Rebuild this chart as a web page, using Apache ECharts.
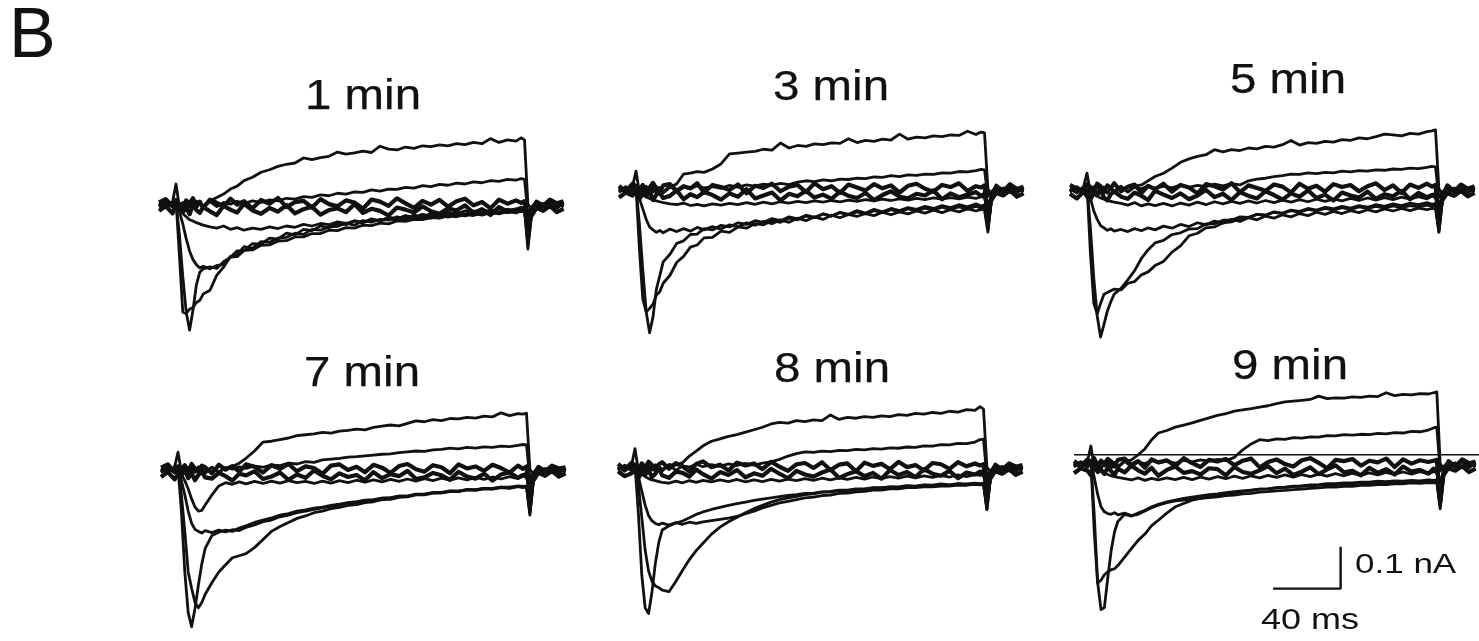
<!DOCTYPE html>
<html><head><meta charset="utf-8">
<script src="https://cdn.jsdelivr.net/npm/echarts@6/dist/echarts.min.js"></script>
<style>html,body{margin:0;padding:0;background:#fff}#c{width:1479px;height:641px}</style>
</head><body><div id="c"></div>
<script>
// time samples (ms) relative to step onset
const T = [-10,-6,-2,0,2,4,6,8,10,12,14,16,20,24,28,32,36,40,45,50,55,60,65,70,75,80,85,90,95,100,105,110,115,120,125,130,135,140,145,150,155,160,165,170,175,180,185,190,195,200,203,205,207,209,212,216,220,224,228];
const panelTitles = ['1 min','3 min','5 min','7 min','8 min','9 min'];

// ---- 1 min (pA) ----
const p1Out1 = [4,-6,8,50,-5,6,-8,5,-4,9, 3,-6,10,18,26,38,45,58,66,78, 84,92,97,100,112,108,113,116,126,121, 124,128,125,140,133,131,138,135,141,139, 143,141,146,144,149,146,158,149,155,152, 160,155,2,-8,6,-5,8,-6,4];
const p1Out2 = [-5,7,-3,10,4,-6,8,-4,6,-7, 5,-3,8,-4,6,2,9,4,10,6, 12,10,16,14,20,18,24,22,28,26, 31,30,36,33,38,37,42,40,46,44, 49,47,52,50,55,53,58,56,61,59, 63,61,-20,-6,8,-4,7,-8,5];
const p1B1 = [6,14,-3,12,2,-9,11,4,16,-2, 8,-7,13,5,-4,15,1,9,-8,12, 3,17,-5,7,10,-6,14,2,-3,11, 6,-9,13,8,-2,16,4,-7,10,1, 12,-4,9,15,-1,7,-8,13,3,11, 5,9,-60,-15,8,-2,13,4,9];
const p1B2 = [-14,-3,-20,4,-9,-17,-6,-22,1,-12, -19,-5,-15,-24,-2,-11,-18,3,-13,-21, -7,-16,0,-20,-10,-4,-23,-12,-8,-17, 2,-19,-9,-14,-25,-6,-11,-18,-3,-15, -21,-8,-13,-1,-19,-10,-24,-5,-16,-12, -7,-11,-35,-18,-6,-14,-2,-17,-9];
const p1In1 = [5,-4,6,8,-10,-20,-28,-35,-38,-42, -45,-48,-52,-55,-50,-58,-54,-60,-55,-58, -52,-56,-50,-53,-46,-50,-44,-47,-40,-44, -38,-41,-35,-38,-33,-36,-30,-33,-28,-31, -25,-29,-23,-26,-20,-24,-18,-21,-16,-19, -14,-16,-40,-12,-3,4,-6,5,-3];
const p1In2 = [-4,6,-5,10,-15,-45,-80,-110,-130,-142, -150,-146,-152,-144,-142,-124,-123,-108,-107,-96, -95,-86,-85,-76,-76,-68,-68,-60,-61,-54, -55,-48,-49,-43,-45,-38,-39,-34,-35,-30, -31,-26,-28,-23,-25,-20,-21,-17,-18,-14, -16,-15,-80,-25,-8,2,-5,3,-4];
const p1In3 = [3,-5,4,12,-120,-255,-258,-248,-244,-232, -227,-212,-203,-167,-148,-122,-118,-99,-103,-87, -89,-79,-77,-67,-70,-58,-60,-52,-51,-43, -48,-37,-41,-34,-36,-28,-34,-24,-29,-20, -27,-17,-22,-14,-19,-10,-17,-8,-13,-9, -12,-10,-105,-30,-10,-3,4,-5,2];
const p1In4 = [-2,4,-3,8,-70,-170,-255,-298,-250,-190, -160,-152,-147,-151,-135,-125,-109,-109,-92,-93, -79,-81,-67,-71,-58,-61,-50,-54,-44,-47, -38,-43,-33,-38,-29,-33,-25,-30,-22,-27, -19,-24,-16,-22,-14,-19,-12,-17,-10,-16, -9,-11,-95,-28,-9,2,-4,3,-2];

// ---- 3 min ----
const p2Out1 = [5,-7,9,45,-6,7,-9,4,-5,8, 2,-7,6,15,38,40,44,42,50,62, 86,88,90,92,97,95,112,100,106,104, 110,108,112,111,122,113,118,116,121,119, 133,121,126,124,129,127,131,130,140,132, 138,136,3,-9,7,-6,9,-5,4];
const p2Out2 = [-6,8,-4,12,5,-7,9,-3,7,-8, 6,-4,9,-5,7,3,10,5,8,4, 11,7,12,9,14,11,16,13,19,22, 20,24,22,26,25,28,27,31,30,34, 32,36,35,38,37,41,40,44,43,46, 49,48,-15,-5,9,-4,8,-7,6];
const p2B1 = [10,-4,15,8,1,12,-7,6,17,3, -5,11,14,-2,9,4,16,-6,12,7, 0,13,-8,10,5,15,-3,8,12,-5, 16,2,9,-7,13,6,-1,14,4,11, -6,10,15,3,-4,12,7,16,-2,9, 6,11,-75,-18,10,-3,14,2,8];
const p2B2 = [-18,-6,-13,2,-21,-9,-15,-3,-24,-11, -7,-19,-14,-1,-22,-10,-17,-5,-12,-23, -8,-16,2,-20,-13,-6,-25,-9,-15,-2, -18,-11,-21,-4,-14,-19,-7,-24,-12,-3, -16,-20,-9,-13,-1,-22,-8,-17,-11,-5, -14,-9,-40,-20,-7,-13,-1,-16,-8];
const p2In1 = [4,-5,7,9,-8,-12,-16,-20,-24,-26, -28,-30,-33,-35,-31,-37,-34,-38,-33,-36, -32,-35,-30,-34,-29,-33,-28,-31,-27,-30, -26,-29,-25,-28,-24,-27,-23,-26,-22,-25, -21,-24,-20,-23,-19,-22,-18,-21,-17,-20, -16,-18,-50,-14,-4,5,-6,4,-3];
const p2In2 = [-3,5,-6,9,-20,-45,-70,-88,-95,-101, -96,-102,-93,-99,-92,-98,-89,-95,-87,-93, -83,-88,-78,-84,-75,-80,-71,-77,-67,-73, -64,-70,-60,-66,-58,-63,-56,-61,-53,-59, -52,-57,-50,-55,-48,-54,-47,-52,-45,-50, -46,-48,-100,-25,-8,3,-5,4,-3];
const p2In3 = [2,-4,5,10,-140,-260,-290,-282,-272,-250, -242,-222,-203,-172,-158,-136,-131,-114,-113,-98, -101,-88,-91,-80,-83,-73,-77,-67,-71,-62, -66,-57,-62,-53,-58,-49,-55,-46,-52,-44, -49,-42,-46,-39,-44,-37,-42,-35,-40,-33, -38,-35,-90,-25,-6,3,-4,5,-2];
const p2In4 = [-3,5,-4,7,-80,-190,-290,-340,-302,-236, -204,-171,-153,-127,-121,-106,-105,-92,-95,-84, -88,-78,-82,-73,-77,-68,-73,-64,-69,-60, -65,-57,-62,-54,-59,-52,-57,-49,-54,-47, -52,-45,-50,-43,-48,-41,-47,-40,-45,-39, -43,-40,-95,-28,-8,2,-4,3,-2];

// ---- 5 min ----
const p3Out1 = [4,-7,8,40,-6,8,-9,6,-5,10, 4,-7,8,-4,9,12,22,32,40,52, 66,74,80,84,96,91,96,94,100,98, 104,102,108,118,107,113,111,116,114,120, 118,124,122,127,133,131,129,135,133,139, 141,143,3,-8,6,-5,9,-6,5];
const p3Out2 = [-5,8,-4,11,5,-7,9,-4,7,-8, 6,-3,9,-5,7,3,10,4,9,5, 12,6,11,8,14,10,15,12,22,26, 28,32,34,38,37,41,39,42,41,45, 43,46,45,48,47,50,49,52,51,54, 56,55,-18,-6,9,-4,8,-7,6];
const p3B1 = [12,3,-6,14,7,-2,15,9,-5,11, 4,16,-3,8,13,-7,10,2,15,-4, 12,6,-8,14,9,1,16,-5,11,5, -2,13,8,-6,15,3,10,-4,14,7, 12,-3,9,16,0,11,-7,13,5,15, 8,12,-70,-16,11,-4,13,3,9];
const p3B2 = [-9,-20,-4,-15,-23,-7,-12,1,-18,-25, -10,-3,-16,-21,-6,-14,-24,-2,-11,-19, -8,-22,-13,0,-17,-9,-24,-5,-14,-20, -3,-12,-23,-8,-16,-1,-19,-11,-25,-6, -13,-18,-4,-21,-10,-15,-2,-22,-7,-17, -12,-10,-45,-19,-8,-14,-2,-15,-7];
const p3In1 = [3,-6,6,9,-6,-10,-15,-19,-22,-25, -27,-29,-32,-36,-30,-38,-33,-37,-32,-38, -31,-36,-29,-35,-28,-33,-27,-32,-26,-31, -25,-30,-24,-29,-23,-28,-22,-27,-21,-26, -20,-25,-19,-24,-18,-23,-17,-22,-16,-21, -15,-18,-55,-14,-4,5,-6,4,-3];
const p3In2 = [-3,5,-6,9,-20,-50,-70,-85,-90,-96, -92,-98,-94,-99,-92,-97,-90,-95,-86,-91, -82,-87,-78,-83,-74,-79,-70,-75,-66,-71, -62,-67,-59,-64,-56,-61,-53,-58,-51,-56, -49,-54,-47,-52,-45,-50,-44,-49,-43,-47, -44,-45,-100,-26,-8,3,-5,4,-3];
const p3In3 = [2,-4,5,10,-150,-270,-295,-270,-248,-244, -240,-236,-238,-222,-218,-202,-195,-180,-170,-148, -133,-109,-103,-90,-88,-78,-76,-68,-66,-58, -60,-52,-55,-48,-51,-44,-48,-41,-45,-39, -43,-37,-41,-35,-39,-33,-37,-31,-35,-30, -34,-32,-95,-26,-7,3,-4,5,-2];
const p3In4 = [-3,5,-4,7,-90,-210,-300,-350,-320,-288, -266,-248,-234,-214,-192,-163,-142,-126,-120,-106, -102,-93,-92,-81,-80,-72,-72,-64,-65,-58, -60,-53,-56,-49,-53,-46,-50,-44,-48,-42, -46,-40,-44,-39,-43,-38,-42,-37,-40,-36, -39,-37,-100,-28,-8,2,-4,3,-2];

// ---- 7 min ----
const p4Out1 = [5,-6,9,45,-4,7,-8,6,-5,9, 3,-7,8,-3,6,10,18,30,48,70, 72,76,80,86,88,90,94,92,97,99, 102,100,106,109,112,110,116,122,120,125, 123,128,127,131,129,134,132,142,135,140, 139,141,3,-9,7,-5,8,-6,4];
const p4Out2 = [-5,7,-4,11,5,-6,8,-3,7,-7, 5,-4,8,-5,7,3,9,5,11,8, 14,12,18,16,22,20,26,28,30,33, 34,36,38,40,41,44,46,48,47,51, 52,55,53,57,55,58,57,60,59,62, 64,63,-20,-6,9,-4,8,-7,6];
const p4B1 = [7,15,-4,10,3,13,-6,16,5,-1, 12,8,-7,14,2,11,-3,15,9,-5, 13,4,16,-2,10,6,-8,12,15,1, 9,-4,14,7,-6,11,16,3,-3,13, 8,-7,15,5,10,-1,14,6,-5,12, 4,10,-65,-15,9,-2,12,5,8];
const p4B2 = [-16,-4,-22,-9,-13,1,-19,-7,-24,-11, -3,-17,-20,-6,-14,-25,-8,-12,-2,-21, -15,-5,-23,-10,-18,0,-13,-22,-7,-16, -11,-24,-4,-19,-9,-14,-1,-21,-17,-6, -12,-23,-3,-15,-20,-8,-25,-10,-5,-18, -11,-9,-40,-17,-6,-13,-1,-15,-7];
const p4In1 = [4,-5,6,8,-10,-25,-45,-70,-90,-100, -98,-85,-60,-38,-30,-34,-28,-33,-27,-32, -26,-31,-25,-30,-27,-32,-26,-31,-25,-30, -24,-29,-23,-28,-22,-27,-21,-26,-20,-25, -19,-24,-18,-23,-17,-22,-16,-21,-15,-20, -14,-17,-50,-13,-4,5,-6,4,-3];
const p4In2 = [-3,5,-6,9,-25,-60,-100,-130,-145,-150, -154,-148,-153,-147,-151,-146,-148,-140,-134,-126, -122,-114,-110,-104,-100,-96,-92,-88,-85,-80, -79,-74,-73,-68,-68,-63,-63,-58,-58,-54, -54,-50,-51,-47,-48,-44,-45,-41,-43,-39, -41,-40,-110,-28,-8,3,-5,4,-3];
const p4In3 = [2,-4,5,10,-60,-150,-250,-290,-325,-338, -325,-305,-276,-250,-232,-215,-210,-205,-190,-170, -150,-138,-128,-118,-112,-104,-100,-94,-91,-86, -84,-79,-77,-72,-71,-66,-65,-60,-60,-56, -55,-51,-51,-47,-47,-44,-44,-41,-41,-38, -39,-38,-105,-26,-7,3,-4,5,-2];
const p4In4 = [-3,5,-4,7,-100,-250,-350,-385,-340,-282, -230,-192,-160,-152,-147,-150,-142,-136,-128,-122, -117,-110,-106,-100,-97,-93,-90,-86,-83,-79, -77,-73,-72,-68,-67,-63,-63,-59,-59,-55, -55,-52,-52,-48,-49,-45,-46,-42,-44,-40, -42,-40,-100,-28,-8,2,-4,3,-2];

// ---- 8 min ----
const p5Out1 = [4,-7,8,48,-5,7,-9,5,-4,9, 3,-6,9,8,14,30,42,55,66,72, 78,82,88,94,100,108,112,110,116,114, 118,116,130,119,124,122,126,124,128,126, 131,129,134,132,136,134,139,137,143,141, 150,144,3,-8,6,-5,8,-6,4];
const p5Out2 = [-5,8,-3,11,4,-7,8,-4,6,-8, 5,-3,9,-5,6,3,10,4,9,5, 11,7,12,8,13,16,22,30,36,40, 39,42,41,44,43,46,45,48,47,50, 49,52,51,55,54,58,57,61,60,64, 70,71,-20,-6,8,-4,7,-8,5];
const p5B1 = [11,-3,14,6,-7,12,2,16,8,-4, 10,15,-1,13,5,-8,11,17,3,9, -5,14,7,12,-2,16,4,-6,10,13, 1,15,-4,9,12,-7,14,6,11,-2, 16,3,8,-5,13,10,-1,15,5,12, 7,10,-70,-16,9,-3,12,4,8];
const p5B2 = [-7,-19,-12,-2,-24,-10,-15,-5,-21,-13, 0,-17,-23,-8,-11,-20,-3,-14,-25,-9, -16,-4,-22,-12,-18,-1,-13,-24,-6,-15, -20,-10,-3,-23,-14,-7,-19,-11,-25,-4, -16,-9,-21,-2,-13,-18,-6,-24,-10,-15, -8,-12,-38,-18,-7,-13,-2,-16,-8];
const p5In1 = [4,-5,7,8,-8,-14,-20,-25,-28,-30, -32,-34,-36,-31,-35,-30,-34,-29,-33,-28, -32,-27,-33,-28,-32,-27,-31,-26,-30,-25, -29,-24,-28,-23,-27,-22,-26,-21,-25,-20, -24,-19,-23,-18,-22,-17,-21,-16,-20,-15, -17,-16,-45,-12,-4,5,-6,4,-3];
const p5In2 = [-3,5,-6,9,-20,-55,-90,-115,-128,-134, -137,-133,-138,-132,-136,-131,-134,-130,-127,-124, -121,-117,-110,-104,-96,-90,-84,-80,-76,-72, -70,-66,-65,-61,-60,-57,-56,-53,-53,-50, -50,-47,-47,-45,-45,-43,-43,-41,-41,-39, -40,-39,-100,-26,-8,3,-5,4,-3];
const p5In3 = [2,-4,5,10,-40,-120,-200,-250,-275,-286, -290,-296,-300,-275,-248,-222,-200,-182,-160,-143, -130,-119,-108,-98,-90,-82,-76,-72,-68,-64, -62,-58,-58,-54,-54,-51,-51,-48,-48,-45, -46,-43,-44,-41,-42,-39,-41,-38,-40,-37, -39,-38,-95,-26,-7,3,-4,5,-2];
const p5In4 = [-3,5,-4,7,-110,-260,-340,-353,-300,-230, -180,-150,-140,-133,-128,-120,-112,-106,-100,-95, -90,-86,-82,-78,-75,-72,-69,-66,-64,-61, -60,-57,-56,-53,-53,-50,-50,-47,-47,-45, -45,-42,-43,-40,-41,-38,-40,-37,-38,-36, -37,-36,-100,-28,-8,2,-4,3,-2];

// ---- 9 min ----
const p6Out1 = [5,-7,9,45,-6,7,-9,5,-4,9, 3,-6,8,12,24,38,60,76,82,90, 95,100,106,112,118,122,128,131,134,138, 141,146,150,152,154,156,164,158,160,159, 162,161,164,163,172,165,168,167,170,169, 172,174,3,-9,7,-6,9,-5,4];
const p6Out2 = [-5,8,-4,11,5,-7,9,-3,7,-8, 6,-4,9,-5,7,3,10,5,9,4, 11,7,12,9,13,10,18,36,50,60, 58,62,61,65,64,67,66,70,69,72, 71,73,72,75,74,77,76,80,79,83, 88,90,-15,-5,9,-4,8,-7,6];
const p6B1 = [9,-2,13,5,16,-6,10,3,14,8, -4,12,15,0,9,-7,13,6,11,-3, 16,4,-5,12,8,14,-1,10,15,-6, 7,13,2,-4,11,16,5,-8,12,9, 14,-2,10,6,15,-5,13,3,11,7, 10,12,-90,-20,9,-3,13,4,8];
const p6B2 = [-20,-8,-14,-25,-3,-17,-11,-22,-6,-15, -24,-9,-18,-2,-13,-21,-7,-26,-12,-4, -19,-15,-23,-8,-10,-25,-5,-17,-21,-13, -3,-20,-9,-24,-16,-6,-22,-11,-1,-18, -14,-25,-7,-19,-10,-23,-4,-16,-12,-21, -9,-13,-50,-20,-8,-14,-3,-17,-9];
const p6In1 = [4,-6,6,9,-8,-12,-16,-20,-23,-26, -28,-30,-33,-36,-31,-37,-32,-36,-31,-35, -30,-35,-29,-34,-28,-33,-27,-32,-26,-31, -25,-30,-24,-29,-23,-28,-22,-27,-21,-26, -20,-25,-19,-24,-18,-23,-17,-22,-16,-21, -16,-18,-55,-14,-4,5,-6,4,-3];
const p6In2 = [-3,5,-6,9,-30,-70,-100,-112,-116,-118, -114,-119,-115,-121,-118,-110,-102,-96,-90,-86, -84,-82,-80,-78,-76,-73,-72,-69,-68,-65, -64,-62,-61,-59,-58,-56,-55,-53,-53,-51, -51,-49,-49,-47,-47,-45,-45,-43,-44,-42, -43,-42,-100,-26,-8,3,-5,4,-3];
const p6In3 = [2,-4,5,10,-160,-282,-275,-262,-255,-250, -248,-240,-220,-200,-180,-165,-145,-132,-115,-100, -92,-84,-80,-76,-72,-69,-66,-63,-61,-58, -57,-54,-53,-51,-50,-48,-47,-45,-45,-43, -43,-41,-41,-39,-40,-38,-39,-37,-38,-36, -37,-36,-95,-26,-7,3,-4,5,-2];
const p6In4 = [-3,5,-4,7,-120,-280,-345,-340,-270,-205, -160,-135,-118,-122,-115,-108,-100,-94,-88,-84, -80,-77,-74,-71,-69,-66,-64,-62,-60,-58, -57,-55,-54,-52,-51,-50,-49,-47,-47,-45, -45,-43,-43,-42,-42,-40,-41,-39,-40,-38, -39,-38,-105,-28,-8,2,-4,3,-2];
const p6LineT = [-10, 230];
const p6LineI = [24, 24];

// scale bar (drawn in 9 min panel coordinates)
const scaleBarT = [108, 148, 148];
const scaleBarI = [-295, -295, -195];
const scaleLabels = ['0.1 nA', '40 ms'];
const panelLetter = 'B';

const panelTraces = [
  [p1Out1,p1Out2,p1B1,p1B2,p1In1,p1In2,p1In3,p1In4],
  [p2Out1,p2Out2,p2B1,p2B2,p2In1,p2In2,p2In3,p2In4],
  [p3Out1,p3Out2,p3B1,p3B2,p3In1,p3In2,p3In3,p3In4],
  [p4Out1,p4Out2,p4B1,p4B2,p4In1,p4In2,p4In3,p4In4],
  [p5Out1,p5Out2,p5B1,p5B2,p5In1,p5In2,p5In3,p5In4],
  [p6Out1,p6Out2,p6B1,p6B2,p6In1,p6In2,p6In3,p6In4]
];
const traceWidths = [2.8, 2.8, 4.2, 4.2, 2.8, 2.8, 2.8, 2.8];

// layout (pixels)
const layout = [
  {left:159,  base:205, tx:363,  ty:97},
  {left:619,  base:190, tx:831,  ty:88},
  {left:1070, base:190, tx:1288, ty:81},
  {left:161,  base:473, tx:362,  ty:374},
  {left:618,  base:470, tx:832,  ty:370},
  {left:1074, base:465, tx:1290, ty:367}
];
const X_MIN = -10, X_MAX = 230, Y_MIN = -420, Y_MAX = 180;
const PX_MS = 1.7, PX_PA = 0.42;
const INK = '#111';
const FONT = '"Liberation Sans", Arial, Helvetica, sans-serif';

const grid = [], xAxis = [], yAxis = [], series = [];
layout.forEach((l, i) => {
  grid.push({left: l.left, top: l.base - Y_MAX * PX_PA, width: (X_MAX - X_MIN) * PX_MS, height: (Y_MAX - Y_MIN) * PX_PA, containLabel: false});
  xAxis.push({gridIndex: i, type: 'value', min: X_MIN, max: X_MAX, show: false});
  yAxis.push({gridIndex: i, type: 'value', min: Y_MIN, max: Y_MAX, show: false});
  panelTraces[i].forEach((arr, j) => {
    series.push({
      type: 'line', xAxisIndex: i, yAxisIndex: i, showSymbol: false, symbol: 'none',
      silent: true, animation: false,
      lineStyle: {color: INK, width: traceWidths[j], join: 'round'},
      data: T.map((t, k) => [t, arr[k]])
    });
  });
});
series.push({
  type: 'line', xAxisIndex: 5, yAxisIndex: 5, showSymbol: false, symbol: 'none', silent: true, animation: false,
  lineStyle: {color: INK, width: 1.6},
  data: p6LineT.map((t, k) => [t, p6LineI[k]])
});
series.push({
  type: 'line', xAxisIndex: 5, yAxisIndex: 5, showSymbol: false, symbol: 'none', silent: true, animation: false,
  lineStyle: {color: INK, width: 2.4},
  data: scaleBarT.map((t, k) => [t, scaleBarI[k]])
});

const graphic = [];
layout.forEach((l, i) => {
  graphic.push({type: 'text', x: l.tx, y: l.ty, scaleX: 1.13,
    style: {text: panelTitles[i], font: '42px ' + FONT, fill: INK, stroke: INK, lineWidth: 0.25, textAlign: 'center', textVerticalAlign: 'middle', verticalAlign: 'middle'}});
});
graphic.push({type: 'text', x: 9, y: 38,
  style: {text: panelLetter, font: '70px ' + FONT, fill: INK, textAlign: 'left', textVerticalAlign: 'middle', verticalAlign: 'middle'}});
graphic.push({type: 'text', x: 1355, y: 565, scaleX: 1.25,
  style: {text: scaleLabels[0], font: '28px ' + FONT, fill: INK, textAlign: 'left', textVerticalAlign: 'middle', verticalAlign: 'middle'}});
graphic.push({type: 'text', x: 1261, y: 621, scaleX: 1.2,
  style: {text: scaleLabels[1], font: '30px ' + FONT, fill: INK, textAlign: 'left', textVerticalAlign: 'middle', verticalAlign: 'middle'}});

const chart = echarts.init(document.getElementById('c'), null, {renderer: 'canvas'});
chart.setOption({backgroundColor: '#fff', animation: false, grid, xAxis, yAxis, series, graphic});
</script></body></html>
